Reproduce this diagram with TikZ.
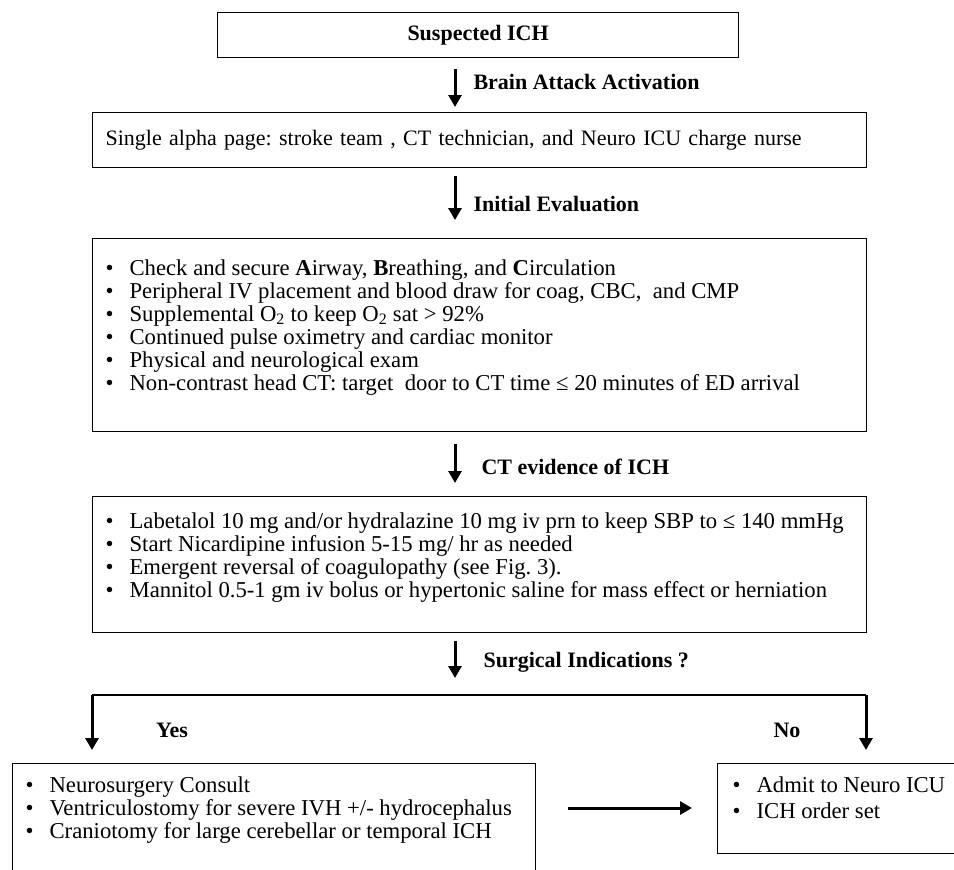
\documentclass[tikz,border=0pt]{standalone}
\usepackage{fontspec}
\setmainfont{Liberation Serif}
\usetikzlibrary{arrows.meta}
\frenchspacing
\newcommand{\itm}{\makebox[24pt][l]{\textbullet}}
\newcommand{\bodyfont}{\fontsize{22}{23}\selectfont}
\newcommand{\listfont}{\fontsize{22.7}{23}\selectfont}
\begin{document}
\begin{tikzpicture}[x=1pt, y=-1pt,
    box/.style={draw, line width=1.2pt, inner ysep=0pt, inner xsep=13pt, anchor=north west, font=\listfont},
    flow/.style={line width=3pt, -{Triangle[width=13pt,length=12pt]}},
    tag/.style={anchor=west, font=\bodyfont\bfseries}]
    \useasboundingbox (0,0) rectangle (954,870);
    \clip (0,0) rectangle (954,870);
    \coordinate (axis) at (455,0);
    \coordinate (mid) at (0,808);

    % Boxes of the pathway
    \node[box, inner xsep=0pt, minimum width=521pt, minimum height=45pt, font=\bodyfont\bfseries] (ich) at (217,12) {Suspected ICH};
    \node[box, minimum width=774pt, minimum height=55pt, text width=748pt, align=left, font=\bodyfont] (page) at (92,112)
        {Single alpha page: stroke team , CT technician, and Neuro ICU charge nurse};
    \node[box] (eval) at (92,238) {\parbox[c][193pt][t]{748pt}{\rule{0pt}{37pt}%
        \itm Check and secure \textbf{A}irway, \textbf{B}reathing, and \textbf{C}irculation\\
        \itm Peripheral IV placement and blood draw for coag, CBC,\ \ and CMP\\
        \itm Supplemental O\textsubscript{2} to keep O\textsubscript{2} sat > 92\%\\
        \itm Continued pulse oximetry and cardiac monitor\\
        \itm Physical and neurological exam\\
        \itm Non-contrast head CT: target\ \ door to CT time ≤ 20 minutes of ED arrival}};
    \node[box] (bp) at (92,496) {\parbox[c][136pt][t]{748pt}{\rule{0pt}{32pt}%
        \itm Labetalol 10 mg and/or hydralazine 10 mg iv prn to keep SBP to ≤ 140 mmHg\\
        \itm Start Nicardipine infusion 5-15 mg/ hr as needed\\
        \itm Emergent reversal of coagulopathy (see Fig. 3).\\
        \itm Mannitol 0.5-1 gm iv bolus or hypertonic saline for mass effect or herniation}};
    \node[box] (surg) at (12,763) {\parbox[c][115pt][t]{497pt}{\rule{0pt}{29pt}%
        \itm Neurosurgery Consult\\
        \itm Ventriculostomy for severe IVH +/- hydrocephalus\\
        \itm Craniotomy for large cerebellar or temporal ICH}};
    \node[box, inner xsep=15pt] (icu) at (717,763) {\parbox[c][90pt][t]{220pt}{\rule{0pt}{29pt}%
        \itm Admit to Neuro ICU\\[3pt]
        \itm ICH order set}};

    % Steps between the boxes
    \draw[flow, shorten <=11pt, shorten >=5pt] (ich.south -| axis) -- (page.north -| axis);
    \node[tag] (act) at (470,82) {Brain Attack Activation};
    \draw[flow, shorten <=8pt, shorten >=18pt] (page.south -| axis) -- (eval.north -| axis);
    \node[tag] (init) at (470,204) {Initial Evaluation};
    \draw[flow, shorten <=12pt, shorten >=13pt] (eval.south -| axis) -- (bp.north -| axis);
    \node[tag] (ct) at (478,467) {CT evidence of ICH};
    \coordinate (ask) at (455,678);
    \draw[flow, shorten <=8pt] (bp.south -| axis) -- (ask);
    \node[tag] (ind) at (480,662) {Surgical Indications ?};

    % Yes / No branches
    \coordinate (yes turn) at (92,695);
    \coordinate (no turn) at (866,695);
    \draw[line width=1.2pt] (yes turn) -- (no turn);
    \draw[flow, shorten >=13pt] (yes turn) -- (yes turn |- surg.north);
    \draw[flow, shorten >=13pt] (no turn) -- (no turn |- icu.north);
    \node[tag, anchor=center] (yes) at (172,730) {Yes};
    \node[tag, anchor=center] (no) at (787,730) {No};
    \draw[flow, shorten <=32pt, shorten >=25pt] (surg.east |- mid) -- (icu.west |- mid);
\end{tikzpicture}
\end{document}
